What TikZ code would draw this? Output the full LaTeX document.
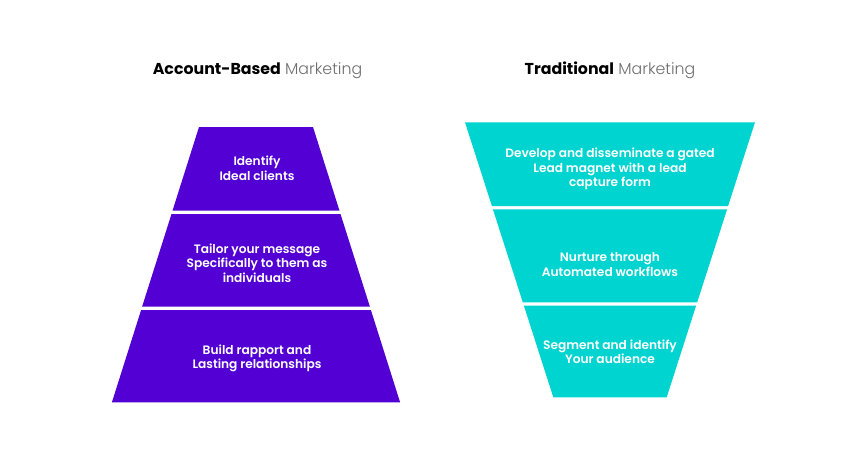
\documentclass[tikz,border=0pt]{standalone}
\usepackage{fontspec}
\setmainfont{Poppins}
\newfontfamily\popbold{Poppins}[UprightFont=* Bold]
\newfontfamily\popsemi{Poppins}[UprightFont=* SemiBold]
\newfontfamily\poplight{Poppins}[UprightFont=* Light]
\definecolor{abmpurple}{HTML}{5200D4}
\definecolor{tradteal}{HTML}{00D4D0}
\definecolor{titlegray}{HTML}{6E6E6E}
\begin{document}
\begin{tikzpicture}[x=1pt,y=-1pt,
  titletext/.style={anchor=base,inner sep=0pt,font=\fontsize{15.8}{18}\selectfont},
  bandtext/.style={align=center,inner sep=0pt,text=white,font=\popsemi\fontsize{12.2}{14.5}\selectfont},
  abmband/.style={fill=abmpurple,draw=none},
  tradband/.style={fill=tradteal,draw=none}]
\useasboundingbox[fill=white] (0,0) rectangle (866,475);
% titles
\node[titletext] (abmtitle) at (257.5,74) {{\popbold Account-Based} {\poplight\color{titlegray}Marketing}};
\node[titletext] (tradtitle) at (610,74) {{\popbold Traditional} {\poplight\color{titlegray}Marketing}};
% ABM pyramid
\fill[abmband] (199,127) -- (313,127) -- (339.5,210.7) -- (172.5,210.7) -- cycle;
\fill[abmband] (171.5,214) -- (340.5,214) -- (369.9,306.7) -- (142.1,306.7) -- cycle;
\fill[abmband] (141.1,310) -- (370.9,310) -- (400.1,402.3) -- (111.9,402.3) -- cycle;
\node[bandtext] (abm1) at (257,168.3) {Identify\\Ideal clients};
\node[bandtext] (abm2) at (257,262.9) {Tailor your message\\Specifically to them as\\individuals};
\node[bandtext] (abm3) at (257,358.3) {Build rapport and\\Lasting relationships};
% Traditional funnel
\fill[tradband] (465,122.3) -- (755,122.3) -- (728.1,206) -- (491.9,206) -- cycle;
\fill[tradband] (492.9,209.3) -- (727.1,209.3) -- (697.2,302.3) -- (522.8,302.3) -- cycle;
\fill[tradband] (523.9,305.7) -- (696.1,305.7) -- (666.7,397.3) -- (553.3,397.3) -- cycle;
\node[bandtext] (trad1) at (610,168.9) {Develop and disseminate a gated\\Lead magnet with a lead\\capture form};
\node[bandtext] (trad2) at (610,264.5) {Nurture through\\Automated workflows};
\node[bandtext] (trad3) at (610,351.7) {Segment and identify\\Your audience};
\end{tikzpicture}
\end{document}
